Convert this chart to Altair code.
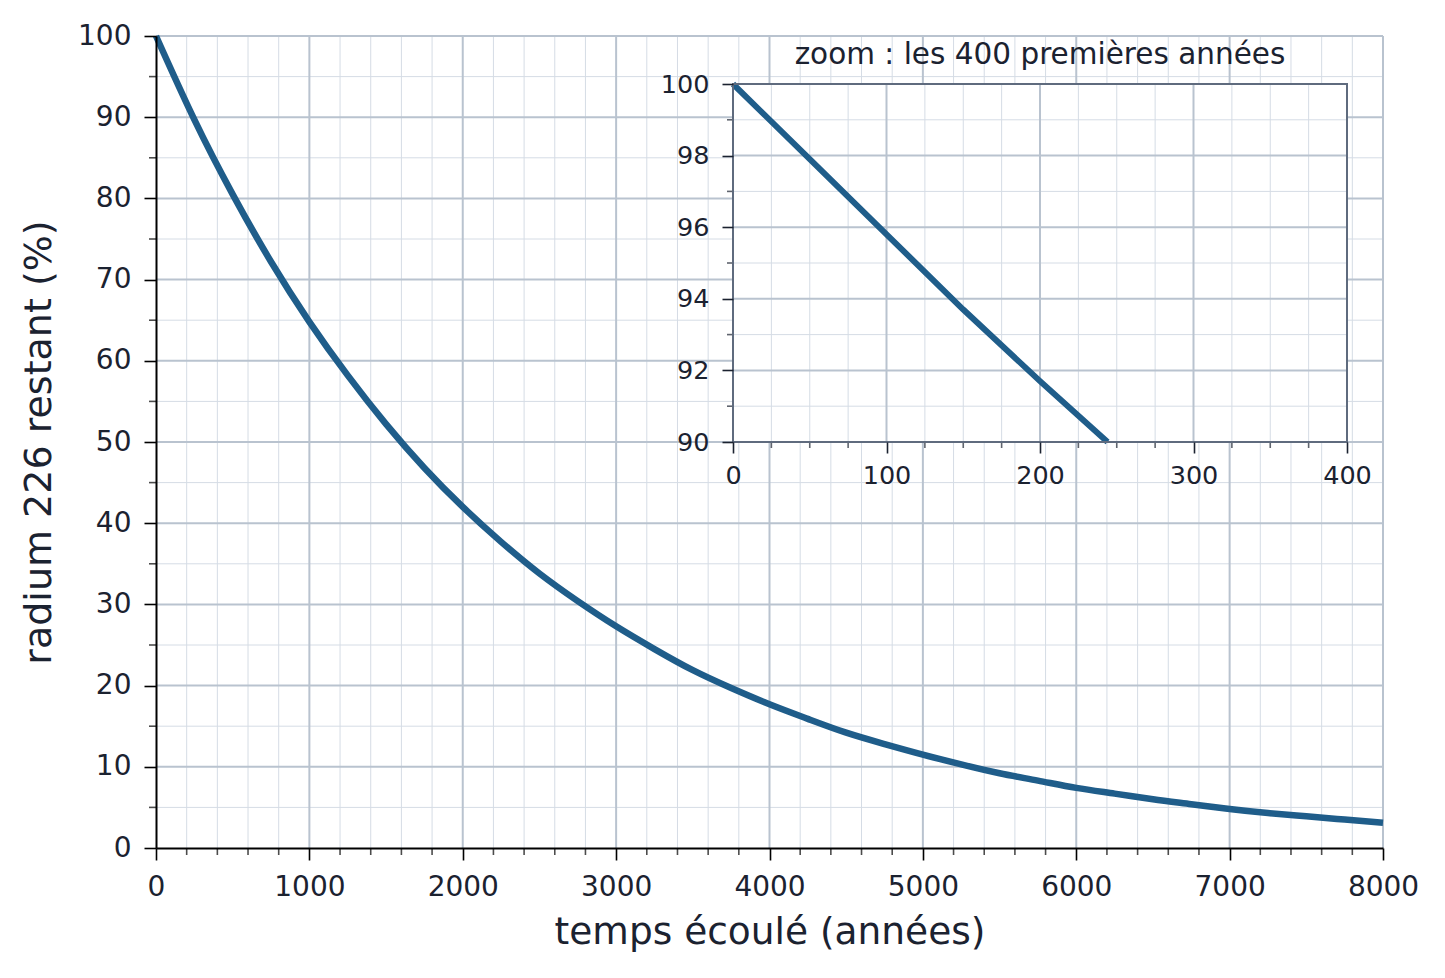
import altair as alt
import pandas as pd

# ---- data ----
years = [0, 250, 500, 750, 1000, 1250, 1500, 1750, 2000, 2250, 2500, 2750, 3000,
         3250, 3500, 3750, 4000, 4250, 4500, 4750, 5000, 5250, 5500, 5750, 6000,
         6250, 6500, 6750, 7000, 7250, 7500, 7750, 8000]
remaining = [100, 89.7, 80.5, 72.2, 64.8, 58.2, 52.2, 46.8, 42.0, 37.7, 33.8, 30.4, 27.3,
             24.5, 21.9, 19.7, 17.7, 15.9, 14.2, 12.8, 11.5, 10.3, 9.2, 8.3, 7.4,
             6.7, 6.0, 5.4, 4.8, 4.3, 3.9, 3.5, 3.1]

zoom_years = [0, 50, 100, 150, 200, 244]
zoom_remaining = [100, 97.9, 95.8, 93.7, 91.7, 90.0]

x_ticks = [0, 1000, 2000, 3000, 4000, 5000, 6000, 7000, 8000]
y_ticks = [0, 10, 20, 30, 40, 50, 60, 70, 80, 90, 100]
x_minor = [v for v in range(200, 8001, 200) if v % 1000]
y_minor = [5, 15, 25, 35, 45, 55, 65, 75, 85, 95]

zx_ticks = [0, 100, 200, 300, 400]
zy_ticks = [90, 92, 94, 96, 98, 100]
zx_minor = [v for v in range(25, 400, 25) if v % 100]
zy_minor = [91, 93, 95, 97, 99]

zoom_title = "zoom : les 400 premières années"
x_title = "temps écoulé (années)"
y_title = "radium 226 restant (%)"

# ---- styling ----
FONT = "DejaVu Sans"
TXT = "#1b2230"
LINE = "#1f5d8a"
GRID_MAJ = "#b9c3cf"
GRID_MIN = "#d5dce5"
FRAME = "#5f6b7e"

W, H = 1227, 812

sx = alt.Scale(domain=[0, 8000], nice=False, zero=False)
sy = alt.Scale(domain=[0, 100], nice=False, zero=False)

ax_x = alt.Axis(values=x_ticks, title=x_title, grid=False, tickSize=12, tickWidth=1.6,
                tickColor="black", domainColor="black", domainWidth=2,
                labelFontSize=28, labelFont=FONT, labelColor=TXT, labelPadding=13,
                labelFlush=False, labelOverlap=False,
                titleFontSize=37.5, titleFont=FONT, titleColor=TXT, titleFontWeight="normal",
                titleY=84, titleBaseline="middle", titleX=W / 2, zindex=1, format="d")
ax_y = alt.Axis(values=y_ticks, title=y_title, grid=False, tickSize=12, tickWidth=1.6,
                tickColor="black", domainColor="black", domainWidth=2,
                labelFontSize=28, labelFont=FONT, labelColor=TXT, labelPadding=13,
                labelFlush=False, labelOverlap=False,
                titleFontSize=38, titleFont=FONT, titleColor=TXT, titleFontWeight="normal",
                titleX=-117, titleY=H / 2, titleBaseline="middle", titleAlign="center",
                titleAngle=-90, zindex=1, format="d")

X = lambda: alt.X("x:Q", scale=sx, axis=ax_x)
Y = lambda: alt.Y("y:Q", scale=sy, axis=ax_y)

df_line = pd.DataFrame({"x": years, "y": remaining})
df_xmaj = pd.DataFrame({"x": x_ticks[1:]})
df_ymaj = pd.DataFrame({"y": y_ticks[1:]})
df_xmin = pd.DataFrame({"x": x_minor, "y": [0] * len(x_minor)})
df_ymin = pd.DataFrame({"x": [0] * len(y_minor), "y": y_minor})

main = alt.layer(
    alt.Chart(pd.DataFrame({"x": x_minor})).mark_rule(color=GRID_MIN, strokeWidth=1).encode(x=X()),
    alt.Chart(pd.DataFrame({"y": y_minor})).mark_rule(color=GRID_MIN, strokeWidth=1).encode(y=Y()),
    alt.Chart(df_xmaj).mark_rule(color=GRID_MAJ, strokeWidth=2).encode(x=X()),
    alt.Chart(df_ymaj).mark_rule(color=GRID_MAJ, strokeWidth=2).encode(y=Y()),
    alt.Chart(df_xmin).mark_tick(orient="vertical", size=7, thickness=1.6, color="black",
                                 yOffset=3.5).encode(x=X(), y=Y()),
    alt.Chart(df_ymin).mark_tick(orient="horizontal", size=7, thickness=1.6, color="black",
                                 xOffset=-3.5).encode(x=X(), y=Y()),
    alt.Chart(df_line).mark_line(color=LINE, strokeWidth=6.5, interpolate="natural").encode(x=X(), y=Y()),
)

# ---- inset ----
szx = alt.Scale(domain=[0, 400], range=[577, 1191], nice=False, zero=False)
szy = alt.Scale(domain=[90, 100], range=[406, 48], nice=False, zero=False)

ax_zx = alt.Axis(values=zx_ticks, title=None, grid=False, orient="bottom", offset=-(H - 406),
                 tickSize=11, tickWidth=1.6, tickColor=TXT, domain=False,
                 labelFontSize=25.5, labelFont=FONT, labelColor=TXT, labelPadding=10,
                 labelFlush=False, labelOverlap=False, zindex=1, format="d")
ax_zy = alt.Axis(values=zy_ticks, title=None, grid=False, orient="left", offset=-577,
                 tickSize=11, tickWidth=1.6, tickColor=TXT, domain=False,
                 labelFontSize=25.5, labelFont=FONT, labelColor=TXT, labelPadding=13,
                 labelFlush=False, labelOverlap=False, zindex=1, format="d")

ZX = lambda: alt.X("zx:Q", scale=szx, axis=ax_zx)
ZY = lambda: alt.Y("zy:Q", scale=szy, axis=ax_zy)

df_box = pd.DataFrame({"zx": [0], "zx2": [400], "zy": [90], "zy2": [100]})
df_zline = pd.DataFrame({"zx": zoom_years, "zy": zoom_remaining})
df_zgx_maj = pd.DataFrame({"zx": zx_ticks[1:-1], "zy": [90] * 3, "zy2": [100] * 3})
df_zgy_maj = pd.DataFrame({"zy": zy_ticks[1:-1], "zx": [0] * 4, "zx2": [400] * 4})
df_zgx_min = pd.DataFrame({"zx": zx_minor, "zy": [90] * len(zx_minor), "zy2": [100] * len(zx_minor)})
df_zgy_min = pd.DataFrame({"zy": zy_minor, "zx": [0] * len(zy_minor), "zx2": [400] * len(zy_minor)})
df_ztx = pd.DataFrame({"zx": zx_minor, "zy": [90] * len(zx_minor)})
df_zty = pd.DataFrame({"zy": zy_minor, "zx": [0] * len(zy_minor)})
df_ztitle = pd.DataFrame({"zx": [200], "zy": [100], "t": [zoom_title]})

inset = alt.layer(
    alt.Chart(df_box).mark_rect(fill="white").encode(x=ZX(), x2="zx2:Q", y=ZY(), y2="zy2:Q"),
    alt.Chart(df_zgx_min).mark_rule(color=GRID_MIN, strokeWidth=1).encode(x=ZX(), y=ZY(), y2="zy2:Q"),
    alt.Chart(df_zgy_min).mark_rule(color=GRID_MIN, strokeWidth=1).encode(y=ZY(), x=ZX(), x2="zx2:Q"),
    alt.Chart(df_zgx_maj).mark_rule(color=GRID_MAJ, strokeWidth=2).encode(x=ZX(), y=ZY(), y2="zy2:Q"),
    alt.Chart(df_zgy_maj).mark_rule(color=GRID_MAJ, strokeWidth=2).encode(y=ZY(), x=ZX(), x2="zx2:Q"),
    alt.Chart(df_ztx).mark_tick(orient="vertical", size=6, thickness=1.6, color=TXT,
                                yOffset=3).encode(x=ZX(), y=ZY()),
    alt.Chart(df_zty).mark_tick(orient="horizontal", size=6, thickness=1.6, color=TXT,
                                xOffset=-3).encode(x=ZX(), y=ZY()),
    alt.Chart(df_zline).mark_line(color=LINE, strokeWidth=6).encode(x=ZX(), y=ZY()),
    alt.Chart(df_box).mark_rect(fill=None, stroke=FRAME, strokeWidth=2).encode(
        x=ZX(), x2="zx2:Q", y=ZY(), y2="zy2:Q"),
    alt.Chart(df_ztitle).mark_text(font=FONT, fontSize=29.5, color=TXT, baseline="bottom",
                                   dy=-14).encode(x=ZX(), y=ZY(), text="t:N"),
)

chart = alt.layer(main, inset).resolve_scale(x="independent", y="independent").properties(
    width=W, height=H,
    padding={"left": 148, "top": 28, "right": 50, "bottom": 115},
    autosize=alt.AutoSizeParams(type="none"),
    background="white",
).configure_view(stroke=None)

chart.save("out.html", embed_options={"renderer": "svg", "actions": False})
